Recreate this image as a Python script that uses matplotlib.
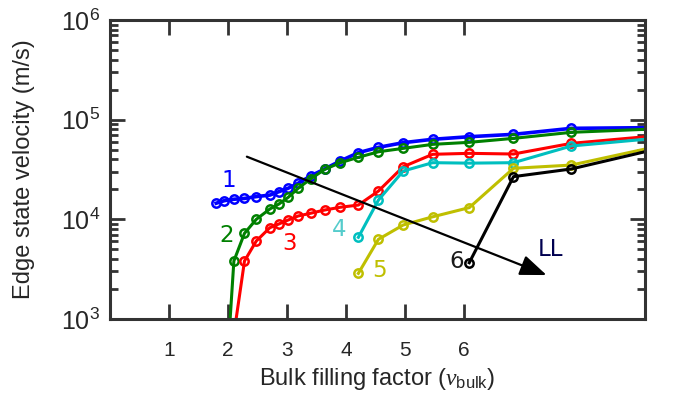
import numpy as np
import matplotlib.pyplot as plt

plt.rcParams['font.family'] = ['Liberation Sans', 'DejaVu Sans']
plt.rcParams['mathtext.fontset'] = 'custom'
plt.rcParams['mathtext.rm'] = 'Liberation Sans'
plt.rcParams['mathtext.it'] = 'Liberation Serif:italic'

# filling factor grid; last point sits past the right edge
x1 = [1.80, 1.94, 2.10, 2.28, 2.48, 2.71, 2.86, 3.02, 3.19, 3.40, 3.64, 3.90,
      4.21, 4.55, 4.97, 5.47, 6.09, 6.84, 7.82, 9.6]
v1 = [14500, 15400, 15900, 16200, 16900, 17500, 18900, 20500, 23000, 27200,
      32000, 38400, 46600, 52700, 58700, 63500, 67400, 71200, 81800, 83500]

x2 = [1.94, 2.10, 2.28, 2.48, 2.71, 2.86, 3.02, 3.19, 3.40, 3.64, 3.90,
      4.21, 4.55, 4.97, 5.47, 6.09, 6.84, 7.82, 9.6]
v2 = [130, 3820, 7240, 10000, 12700, 14200, 16600, 20500, 25400, 31700, 36900,
      41900, 47600, 51500, 56500, 59200, 64900, 74600, 82300]

x3 = [2.10, 2.28, 2.48, 2.71, 2.86, 3.02, 3.19, 3.40, 3.64, 3.90,
      4.21, 4.55, 4.97, 5.47, 6.09, 6.84, 7.82, 9.6]
v3 = [700, 3820, 6060, 8240, 8970, 9840, 10800, 11500, 12400, 13200,
      13900, 19200, 33700, 44900, 45900, 45200, 57800, 71800]

x4 = [4.21, 4.55, 4.97, 5.47, 6.09, 6.84, 7.82, 9.6]
v4 = [6600, 15600, 30500, 37000, 36600, 37000, 54400, 67800]

x5 = [4.21, 4.55, 4.97, 5.47, 6.09, 6.84, 7.82, 9.6]
v5 = [2870, 6300, 8770, 10600, 13100, 32500, 35000, 59300]

x6 = [6.09, 6.84, 7.82, 9.6]
v6 = [3670, 26800, 32000, 56400]

series = [(x1, v1, 'b', 2.6), (x2, v2, 'g', 2.2), (x3, v3, 'r', 2.2),
          (x4, v4, 'c', 2.2), (x5, v5, 'y', 2.2), (x6, v6, 'k', 2.2)]

# curve labels (baseline positions)
labels = ['1', '2', '3', '4', '5', '6', 'LL']
label_x = [2.005, 1.98, 3.05, 3.88, 4.57, 5.88, 7.47]
label_y = [21200, 5960, 4920, 6790, 2650, 3220, 4290]
label_c = ['b', 'g', 'r', '#55cccc', 'y', '#1a1a1a', '#000050']

fig = plt.figure(figsize=(6.79, 3.99), dpi=100)
ax = fig.add_axes([0.162, 0.2005, 0.788, 0.7495])

for xs, vs, c, lw in series:
    ax.plot(xs, vs, '-o', color=c, lw=lw, ms=6, mew=1.8, mfc='none')

for t, tx, ty, c in zip(labels, label_x, label_y, label_c):
    ax.text(tx, ty, t, color=c, fontsize=16.5, family='DejaVu Sans',
            ha='center', va='baseline')

ax.annotate('', xy=(7.40, 2760), xytext=(2.32, 42500),
            arrowprops=dict(arrowstyle='-|>,head_length=0.9,head_width=0.35',
                            color='k', lw=1.6, mutation_scale=18,
                            shrinkA=0, shrinkB=0))

ax.set_yscale('log')
ax.set_xlim(0, 9.07)
ax.set_ylim(1e3, 1e6)
ax.set_xticks([1, 2, 3, 4, 5, 6])
ax.set_yticks([1e3, 1e4, 1e5, 1e6])

for s in ax.spines.values():
    s.set_linewidth(2.2)
    s.set_color('#333333')
ax.tick_params(which='both', direction='in', top=True, right=True,
               color='#333333', width=2)
ax.tick_params(which='major', length=11)
ax.tick_params(which='minor', length=6)
ax.tick_params(axis='x', labelsize=15, pad=16, labelcolor='#262626')
ax.tick_params(axis='y', labelsize=18, pad=7, labelcolor='#262626')

ax.set_xlabel(r'Bulk filling factor ($\nu_{\mathrm{bulk}}$)', fontsize=17, color='#262626')
ax.set_ylabel('Edge state velocity (m/s)', fontsize=17, color='#262626')
ax.yaxis.set_label_coords(-0.141, 0.5)

fig.savefig('out.png', dpi=100)
